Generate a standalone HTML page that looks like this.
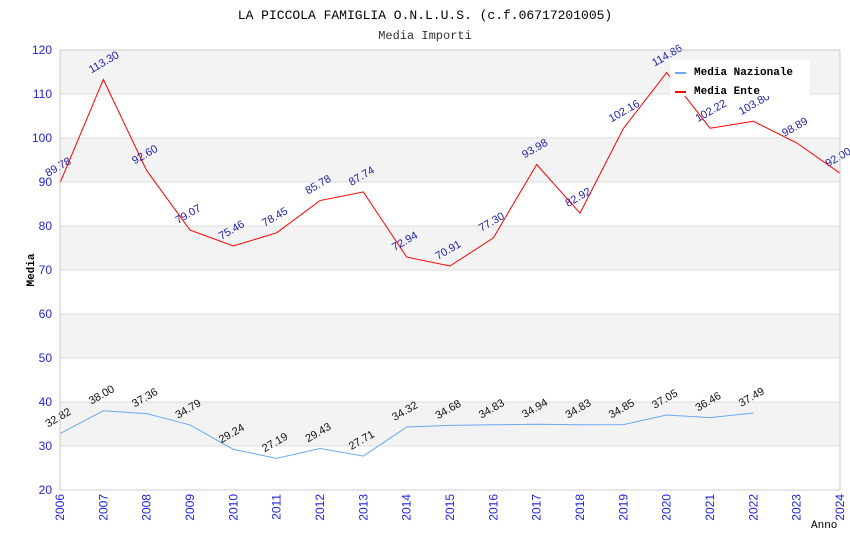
<!DOCTYPE html>
<html><head><meta charset="utf-8"><style>
body{margin:0;background:#fff;}
svg text{font-family:"Liberation Sans",sans-serif;}
.mono{font-family:"Liberation Mono",monospace;}
</style></head><body>
<svg id="chart" width="850" height="550" xmlns="http://www.w3.org/2000/svg">
<text class="mono" x="425" y="19" text-anchor="middle" font-size="13">LA PICCOLA FAMIGLIA O.N.L.U.S. (c.f.06717201005)</text>
<text class="mono" x="425" y="39" text-anchor="middle" font-size="12" fill="#333">Media Importi</text>
<g id="bands"></g>
<g id="grid"></g>
<g id="series"></g>
<g id="labels"></g>
<g id="axes"></g>
<text class="mono" x="34" y="270" font-size="11" font-weight="bold" transform="rotate(-90 34 270)" text-anchor="middle">Media</text>
<text class="mono" x="811" y="528" font-size="11">Anno</text>
<g>
<rect x="670" y="60" width="140" height="36" fill="#fff"/>
<line x1="675" y1="73" x2="686" y2="73" stroke="#6aaaf0" stroke-width="2"/>
<text class="mono" x="694" y="75" font-size="11" font-weight="bold">Media Nazionale</text>
<line x1="675" y1="92" x2="686" y2="92" stroke="#f00" stroke-width="2"/>
<text class="mono" x="694" y="94" font-size="11" font-weight="bold">Media Ente</text>
</g>
</svg>
<script>
const years=[2006,2007,2008,2009,2010,2011,2012,2013,2014,2015,2016,2017,2018,2019,2020,2021,2022,2023,2024];
const ente=[89.78,113.30,92.60,79.07,75.46,78.45,85.78,87.74,72.94,70.91,77.30,93.98,82.92,102.16,114.86,102.22,103.80,98.89,92.00];
const nazionale=[32.82,38.00,37.36,34.79,29.24,27.19,29.43,27.71,34.32,34.68,34.83,34.94,34.83,34.85,37.05,36.46,37.49];
const yTicks=[20,30,40,50,60,70,80,90,100,110,120];
const L=60,R=840,T=50,B=490,yMin=20,yMax=120;
const xs=i=>L+(R-L)*i/(years.length-1);
const ys=v=>B-(v-yMin)/(yMax-yMin)*(B-T);
const NS="http://www.w3.org/2000/svg";
function mk(tag,attrs,parent,text){const e=document.createElementNS(NS,tag);for(const k in attrs)e.setAttribute(k,attrs[k]);if(text!==undefined)e.textContent=text;document.getElementById(parent).appendChild(e);return e;}
for(let i=0;i<yTicks.length-1;i++){
  if(i%2===1){const r=mk('rect',{x:L,y:ys(yTicks[i+1]),width:R-L,height:ys(yTicks[i])-ys(yTicks[i+1]),fill:'#f3f3f3'},'bands');
  
  }
}
yTicks.forEach(t=>{
  const l=mk('line',{x1:L,x2:R,y1:ys(t),y2:ys(t),stroke:'#ddd'},'grid');
  
  
  const tx=mk('text',{x:L-8,y:ys(t)+4,'text-anchor':'end','font-size':12,fill:'#22d'},'axes',t);
  
  
});
const frame=mk('rect',{x:L,y:T,width:R-L,height:B-T,fill:'none',stroke:'#ccc'},'axes');


years.forEach((y,i)=>{
  const x=xs(i);
  const tx=mk('text',{x:x+4,y:B+4,'text-anchor':'end','font-size':12,fill:'#22d',transform:`rotate(-90 ${x+4} ${B+4})`},'axes',y);
  
  
});
function series(vals,color,lblColor,name){
  const p=mk('polyline',{points:vals.map((v,i)=>xs(i)+','+ys(v)).join(' '),fill:'none',stroke:color,'stroke-width':1},'series');
  
  
  vals.forEach((v,i)=>{
    const x=xs(i)-12,y=ys(v)-6;
    const t=mk('text',{x:x,y:y,'font-size':11,fill:lblColor,transform:`rotate(-30 ${x} ${y})`},'labels',v.toFixed(2));
    
    
  });
}
series(nazionale,'#6aaaf0','#111','nazionale');
series(ente,'#f00','#22a','ente');
</script>
</body></html>
